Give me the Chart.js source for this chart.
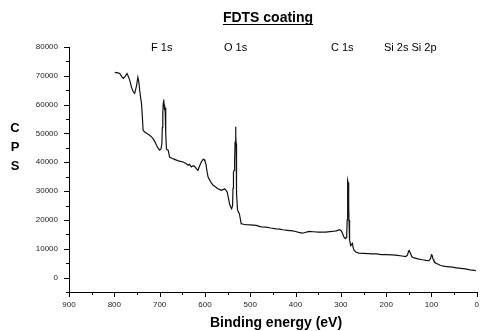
<!DOCTYPE html>
<html><head><meta charset="utf-8">
<script src="https://cdn.jsdelivr.net/npm/chart.js@4.4.1/dist/chart.umd.min.js"></script>
<style>html,body{margin:0;padding:0;background:#fff}#w{position:relative;width:482px;height:331px}</style>
</head><body><div id="w"><canvas id="c" width="482" height="331"></canvas></div>
<script>
// Binding energy (eV), descending, and counts per second
const energy = [799,792,788,784,780,776,772,769,766,762,758,755,751,748,746,744,742,740,738,736.5,733,728,722,718,714.5,710,707,703,700,697,695,694,693,692,691,690,689,688,687,686,685,683,681,678,672,667,660,654,648,642,637,634,630,626,623,619,615.5,612,608,604,602,600,598,595,593,588,582,577,571.5,567,564,560,557,554,551,548,545.7,543,541,539,538,537,535.5,534.5,533.5,532.5,531.5,531,530.5,530,528,526,524,522,520,515,509,500,487,476,465,455,443,435,428,418,406,400,393,384,376,370,360,350,340,333,320,310,303,299,296,293,290,288,287,286,285.5,285,284.5,284,283,282.5,282,281.5,280,278,276,274.4,273,270.6,266,260,250,240,230,222,210,200,186,175,165,157,153,150.5,149,147,146,143,140,130,120,112,105.5,102,100,98.5,96.5,94.5,90,85,80,70,60,54,45,35,25,15,5,2];
const cps = [71200,71000,70800,69800,69100,69800,70800,69800,68500,66000,64400,63900,66500,69500,68000,65000,62500,60400,55500,51100,50500,50000,49400,48800,48200,47000,45900,44800,44200,44600,46500,52000,57000,60500,61800,60000,58100,59000,57500,50000,44800,44300,44200,41800,41300,41000,40600,40300,40100,39600,39000,39300,38400,38800,38600,37800,37200,38600,40100,41000,41000,40400,39500,36500,34900,33400,32000,31500,30800,30500,30300,30500,30800,30400,29700,27500,25600,24400,23900,25000,31000,36600,37200,40000,47000,52300,49000,46500,35000,29100,23500,22700,22200,20500,18700,18500,18400,18300,18100,17600,17500,17200,16900,16800,16600,16400,16200,16000,15700,15400,15800,16000,15900,15800,15800,15800,16000,16200,16600,16200,15200,14000,13500,13900,15200,20000,26000,31000,33700,33000,31400,25000,20000,16300,13000,11100,11600,11900,10500,9400,8800,8500,8400,8300,8200,8200,8000,8000,7900,7700,7500,7300,7800,9200,9400,8600,8200,7200,6900,6500,6200,6000,5900,6600,7900,7700,6400,5700,5000,4600,4200,3900,3700,3600,3400,3200,3000,2700,2500,2400];
const xTickValues = [900,800,700,600,500,400,300,200,100,0];
const yTickValues = [0,10000,20000,30000,40000,50000,60000,70000,80000];
const peakLabels = ['F 1s','O 1s','C 1s','Si 2s Si 2p'];
const chartTitle = 'FDTS coating';
const xTitle = 'Binding energy (eV)';
const yTitle = ['C','P','S'];

const FONT = '"Liberation Sans", Arial, Helvetica, sans-serif';
const points = energy.map((e, i) => ({x: e, y: cps[i]}));

const decor = {
  id: 'decor',
  afterDraw(chart) {
    const ctx = chart.ctx, xs = chart.scales.x, ys = chart.scales.y, a = chart.chartArea;
    ctx.save();
    ctx.strokeStyle = '#000'; ctx.lineWidth = 1;
    ctx.beginPath();
    for (let v = 0; v <= 900; v += 50) {
      const px = Math.round(xs.getPixelForValue(v)) + 0.5;
      const len = xTickValues.includes(v) ? 5 : 3;
      ctx.moveTo(px, a.bottom); ctx.lineTo(px, a.bottom + len);
    }
    for (let v = -5000; v <= 80000; v += 5000) {
      const py = Math.round(ys.getPixelForValue(v)) + 0.5;
      const len = yTickValues.includes(v) ? 5 : 3;
      ctx.moveTo(a.left - len, py); ctx.lineTo(a.left, py);
    }
    ctx.stroke();
    ctx.fillStyle = '#000';
    // title
    ctx.font = 'bold 14px ' + FONT;
    ctx.textAlign = 'center'; ctx.textBaseline = 'alphabetic';
    ctx.fillText(chartTitle, 268, 22);
    const tw = ctx.measureText(chartTitle).width;
    ctx.fillRect(268 - tw / 2, 24, tw, 1);
    // peak labels
    ctx.font = '11px ' + FONT;
    ctx.textAlign = 'left'; ctx.textBaseline = 'middle';
    const lx = [151, 224, 331, 384];
    peakLabels.forEach((t, i) => ctx.fillText(t, lx[i], 48));
    // y title stacked
    ctx.font = 'bold 13px ' + FONT;
    ctx.textAlign = 'center';
    const ly = [128, 147, 166];
    yTitle.forEach((t, i) => ctx.fillText(t, 15, ly[i]));
    // x title
    ctx.font = 'bold 14px ' + FONT;
    ctx.fillText(xTitle, 276, 323);
    ctx.restore();
  }
};

new Chart(document.getElementById('c'), {
  type: 'line',
  data: { datasets: [{ data: points, borderColor: '#111', borderWidth: 1.2, pointRadius: 0, tension: 0, fill: false }] },
  options: {
    responsive: false, animation: false, devicePixelRatio: 1,
    layout: { padding: { left: 0, top: 47, right: 4, bottom: 0 } },
    plugins: { legend: { display: false }, title: { display: false }, tooltip: { enabled: false } },
    scales: {
      x: {
        type: 'linear', reverse: true, min: 0, max: 900,
        afterBuildTicks: s => { s.ticks = xTickValues.map(v => ({value: v})); },
        ticks: { font: { size: 8, family: FONT }, color: '#222', padding: 3, maxRotation: 0, autoSkip: false },
        grid: { drawOnChartArea: false, drawTicks: true, tickLength: 5, color: 'rgba(0,0,0,0)' },
        border: { display: true, color: '#000', width: 1 },
        afterFit: s => { s.height = 39; }
      },
      y: {
        type: 'linear', min: -5000, max: 80000,
        afterBuildTicks: s => { s.ticks = yTickValues.map(v => ({value: v})); },
        ticks: { font: { size: 8, family: FONT }, color: '#222', padding: 6, callback: v => String(v) },
        grid: { drawOnChartArea: false, drawTicks: true, tickLength: 5, color: 'rgba(0,0,0,0)' },
        border: { display: true, color: '#000', width: 1 },
        afterFit: s => { s.width = 69; }
      }
    }
  },
  plugins: [decor]
});
</script></body></html>
